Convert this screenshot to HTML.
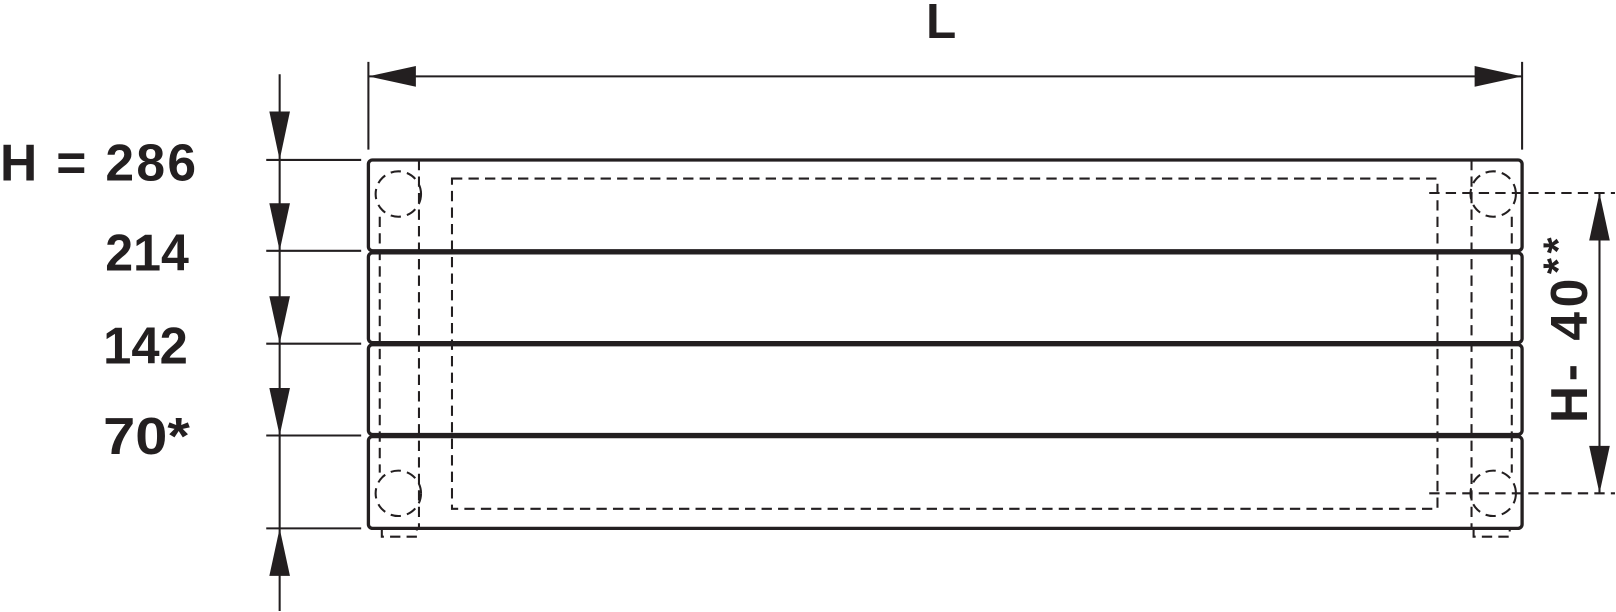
<!DOCTYPE html>
<html><head><style>html,body{margin:0;padding:0;background:#fff}svg{display:block}text{font-family:"Liberation Sans",sans-serif;font-weight:bold;fill:#231f20}</style></head>
<body>
<svg width="1616" height="612" viewBox="0 0 1566 593" preserveAspectRatio="none" xmlns="http://www.w3.org/2000/svg">
<g stroke="#231f20" fill="none">
<g stroke-width="3.2">
<rect x="357" y="155" width="1118" height="88" rx="4"/>
<rect x="357" y="245" width="1118" height="87" rx="4"/>
<rect x="357" y="334" width="1118" height="87" rx="4"/>
<rect x="357" y="423" width="1118" height="89" rx="4"/>
</g>
<g stroke-width="2" stroke-dasharray="10,6">
<rect x="438" y="173" width="955" height="320"/>
<line x1="368" y1="210" x2="368" y2="458"/>
<line x1="406" y1="155" x2="406" y2="512"/>
<line x1="1426" y1="155" x2="1426" y2="512"/>
<line x1="1465" y1="210" x2="1465" y2="458"/>
<circle cx="386" cy="188" r="22"/>
<circle cx="386" cy="478" r="22"/>
<circle cx="1447" cy="188" r="22"/>
<circle cx="1447" cy="478" r="22"/>
<polyline points="370,512 370,520 404,520 404,512"/>
<polyline points="1428,512 1428,520 1463,520 1463,512"/>
<line x1="1385" y1="187" x2="1565" y2="187"/>
<line x1="1385" y1="478" x2="1565" y2="478"/>
</g>
<g stroke-width="2">
<line x1="357" y1="60" x2="357" y2="145"/>
<line x1="1475" y1="60" x2="1475" y2="145"/>
<line x1="357" y1="74" x2="1475" y2="74"/>
<line x1="271" y1="72" x2="271" y2="592"/>
<line x1="258" y1="155" x2="350" y2="155"/>
<line x1="258" y1="243" x2="350" y2="243"/>
<line x1="258" y1="333" x2="350" y2="333"/>
<line x1="258" y1="422" x2="350" y2="422"/>
<line x1="258" y1="512" x2="350" y2="512"/>
<line x1="1550" y1="187" x2="1550" y2="478"/>
</g>
</g>
<g fill="#231f20">
<polygon points="357,74 403,64 403,84"/>
<polygon points="1475,74 1429,64 1429,84"/>
<polygon points="271,155 261,108 281,108"/>
<polygon points="271,243 261,197 281,197"/>
<polygon points="271,333 261,287 281,287"/>
<polygon points="271,422 261,376 281,376"/>
<polygon points="271,512 261,558 281,558"/>
<polygon points="1550,187 1540,233 1560,233"/>
<polygon points="1550,478 1540,432 1560,432"/>
</g>
<text x="912" y="37" font-size="48" text-anchor="middle">L</text>
<text x="0" y="175" font-size="50" textLength="190" lengthAdjust="spacing">H = 286</text>
<text x="102" y="262" font-size="50" textLength="81" lengthAdjust="spacingAndGlyphs">214</text>
<text x="100" y="352" font-size="50" textLength="82" lengthAdjust="spacingAndGlyphs">142</text>
<text x="100" y="440" font-size="50" textLength="84" lengthAdjust="spacingAndGlyphs">70*</text>
<text transform="translate(1538,410) rotate(-90)" font-size="50" textLength="180" lengthAdjust="spacing">H- 40<tspan font-size="40" dy="-14">**</tspan></text>
</svg>
</body></html>
